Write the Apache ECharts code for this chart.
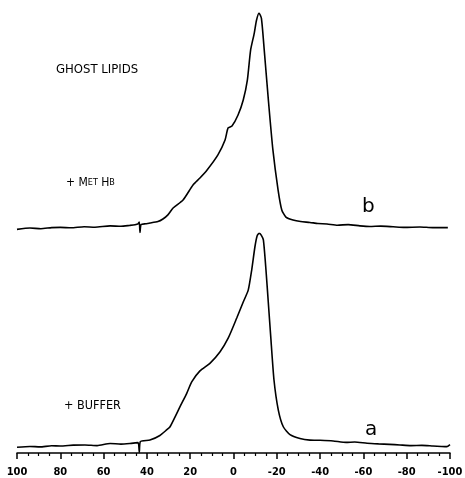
<!DOCTYPE html>
<html>
<head>
<meta charset="utf-8">
<script src="https://cdn.jsdelivr.net/npm/echarts@6/dist/echarts.min.js"></script>
<style>
  html, body { margin: 0; padding: 0; background: #ffffff; }
  #main { width: 465px; height: 478px; }
</style>
</head>
<body>
<div id="main"></div>
<script>
// chemical shift axis (ppm), runs 100 -> -100
var tickValues = [100, 80, 60, 40, 20, 0, -20, -40, -60, -80, -100];

// trace b : ghost lipids + Met Hb  (ppm, relative intensity)
var shiftB = [100, 94, 89, 84, 80, 75, 69, 64, 57, 52, 48, 45.5, 44.1, 43.5, 43.2, 42.7, 40.5, 38.6, 34.9, 32.6, 30.3, 27.9,
  23.3, 18.7, 15.5, 12.2, 7.2, 3.9, 2.5, 0.7, -2.1, -4.5, -6.4, -7.9, -9.6, -10.6, -11.8, -12.9, -14.2, -16.1, -18.2,
  -20.6, -22.3, -24.2, -27.5, -31, -35.3, -39, -43.2, -48, -53, -58.4, -63, -68, -73.7, -79, -86.1, -92, -99];
var intB = [-0.3, 0.3, 0.0, 0.5, 0.6, 0.4, 0.9, 0.7, 1.3, 1.1, 1.5, 1.8, 2.2, 3.1, -1.8, 1.9, 2.3, 2.6, 3.3, 4.5, 6.4, 9.6,
  13.3, 20.3, 23.5, 27.2, 34.2, 41.1, 46.7, 47.6, 52.7, 59.7, 68.9, 82.8, 90.7, 96.5, 100, 97.5, 82.8, 59.7, 36.5,
  17.9, 8.7, 5.4, 4.0, 3.3, 2.9, 2.4, 2.2, 1.6, 1.9, 1.3, 1.0, 1.2, 0.9, 0.6, 0.8, 0.5, 0.5];

// trace a : ghost lipids + buffer
var shiftA = [100, 94, 89.4, 84, 80.1, 74, 68.6, 63, 57, 52, 47.8, 44.1, 43.5, 43.0, 38.6, 34.0, 30.9, 29.3, 24.7, 21.6,
  19.3, 15.5, 10.9, 6.2, 2.4, -1.5, -4.5, -6.8, -8.4, -9.9, -10.9, -11.9, -12.8, -13.8, -15.0, -16.1, -17.2, -18.7,
  -20.7, -23.0, -26.1, -30.7, -35.3, -40, -46.0, -52, -56, -61.7, -67, -72, -76.9, -82, -87, -92.1, -96, -98.5, -100];
var intA = [-1.3, -0.9, -1.1, -0.6, -0.7, -0.3, -0.2, -0.5, 0.5, 0.2, 0.5, 0.9, -3.8, 1.4, 2.1, 4.3, 6.9, 8.4, 17.9, 24.2,
  29.6, 34.8, 38.4, 43.9, 50.4, 59.8, 67.4, 73.0, 82.5, 93.5, 98.6, 99.9, 99.0, 96.7, 82.5, 66.8, 51.0, 30.5,
  16.3, 8.4, 4.7, 2.9, 2.1, 2.0, 1.7, 1.0, 1.2, 0.6, 0.3, 0.1, -0.2, -0.5, -0.4, -0.7, -0.9, -1.0, 0.0];

function pairs(xs, ys) {
  var out = [];
  for (var i = 0; i < xs.length; i++) out.push([xs[i], ys[i]]);
  return out;
}

var chart = echarts.init(document.getElementById("main"));
var labelFont = "DejaVu Sans Condensed";

chart.setOption({
  backgroundColor: "#ffffff",
  animation: false,
  grid: [
    { left: 17, right: 15, top: 13, height: 220, outerBoundsMode: "none" },
    { left: 17, right: 15, top: 233, height: 220, outerBoundsMode: "none" }
  ],
  xAxis: [
    { gridIndex: 0, type: "value", min: -100, max: 100, inverse: true, show: false },
    {
      gridIndex: 1,
      type: "value",
      min: -100,
      max: 100,
      interval: 20,
      inverse: true,
      axisLine: { show: true, onZero: false, lineStyle: { color: "#000", width: 1.5 } },
      axisTick: { show: true, length: 6, lineStyle: { color: "#000", width: 1.5 } },
      minorTick: { show: true, splitNumber: 4, length: 3, lineStyle: { color: "#000", width: 1.2 } },
      splitLine: { show: false },
      axisLabel: {
        color: "#000",
        fontFamily: labelFont,
        fontWeight: "bold",
        fontSize: 11,
        margin: 14,
        formatter: function (v) { return tickValues.indexOf(v) >= 0 ? String(v) : ""; }
      }
    }
  ],
  yAxis: [
    { gridIndex: 0, type: "value", min: -2, max: 100, show: false },
    { gridIndex: 1, type: "value", min: -4, max: 100, show: false }
  ],
  series: [
    {
      name: "b",
      type: "line",
      xAxisIndex: 0,
      yAxisIndex: 0,
      showSymbol: false,
      smooth: 0.2,
      lineStyle: { color: "#000", width: 1.6 },
      data: pairs(shiftB, intB)
    },
    {
      name: "a",
      type: "line",
      xAxisIndex: 1,
      yAxisIndex: 1,
      showSymbol: false,
      smooth: 0.2,
      lineStyle: { color: "#000", width: 1.6 },
      data: pairs(shiftA, intA)
    }
  ],
  graphic: [
    {
      type: "text", left: 56, top: 63,
      style: { text: "GHOST LIPIDS", fill: "#000", font: "13px " + labelFont }
    },
    {
      type: "text", left: 66, top: 177,
      style: {
        text: "{big|+ M}{sm|ET} {big|H}{sm|B}",
        rich: {
          big: { fontSize: 12, fontFamily: labelFont, fill: "#000" },
          sm: { fontSize: 9, fontFamily: labelFont, fill: "#000" }
        }
      }
    },
    {
      type: "text", left: 64, top: 399,
      style: { text: "+ BUFFER", fill: "#000", font: "12.5px " + labelFont }
    },
    {
      type: "text", left: 362, top: 197,
      style: { text: "b", fill: "#000", font: "20px 'DejaVu Sans'" }
    },
    {
      type: "text", left: 365, top: 420,
      style: { text: "a", fill: "#000", font: "20px 'DejaVu Sans'" }
    }
  ]
});

window.onresize = function () {
  chart.resize();
};
</script>
</body>
</html>
